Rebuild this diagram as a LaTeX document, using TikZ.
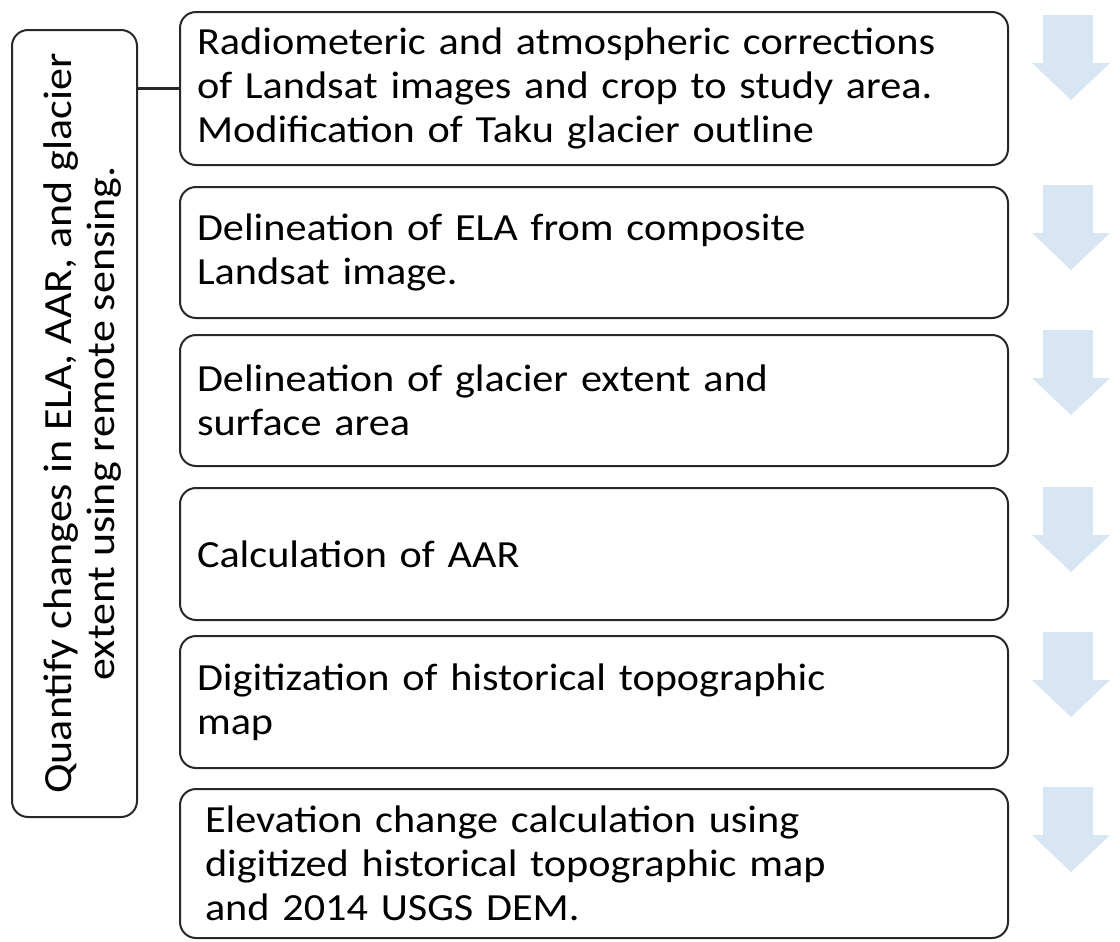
\documentclass[tikz,border=0pt]{standalone}
\usepackage{fontspec}
\setmainfont{Carlito}[FakeStretch=1.1]
\usetikzlibrary{positioning}
\definecolor{boxline}{RGB}{40,40,40}
\definecolor{arrowblue}{RGB}{216,229,243}
\tikzset{
	etape/.style={draw=boxline, line width=1pt, rounded corners=8pt, fill=white,
		minimum width=414pt, text width=397pt, inner xsep=8.5pt, align=left,
		font=\fontsize{19.2}{22}\selectfont},
	objectif/.style={draw=boxline, line width=1pt, rounded corners=8pt, fill=white,
		minimum width=62.5pt, minimum height=393.5pt},
	texteobj/.style={rotate=90, align=center, font=\fontsize{20}{21.5}\selectfont},
	fleche/.style={fill=arrowblue, draw=none}
}
\begin{document}
\begin{tikzpicture}[x=0.5pt, y=-0.5pt]
			\useasboundingbox (0,0) rectangle (1120,942);
			%Objectif, texte vertical
			\node[objectif] (Q) at (74.5,423.5) {};
			\node[texteobj] (Qtexte) at ([xshift=4pt]Q.center) {Quantify changes in ELA, AAR, and glacier\\extent using remote sensing.};
			%Etapes
			\node[etape, minimum height=76.5pt] (E1) at (594,88.5) {Radiometeric and atmospheric corrections\\of Landsat images and crop to study area.\\Modification of Taku glacier outline};
			\node[etape, minimum height=65.5pt] (E2) at (594,252.5) {Delineation of ELA from composite\\Landsat image.};
			\node[etape, minimum height=65.5pt] (E3) at (594,400.5) {Delineation of glacier extent and\\surface area};
			\node[etape, minimum height=66pt] (E4) at (594,554) {Calculation of AAR};
			\node[etape, minimum height=66pt] (E5) at (594,702) {Digitization of historical topographic\\map};
			\node[etape, minimum height=74.5pt, text width=389pt, inner xsep=11pt] (E6) at (594,863.5) {Elevation change calculation using\\digitized historical topographic map\\and 2014 USGS DEM.};
			%Liaison
			\draw[boxline, line width=1.2pt] (Q.east |- E1.west) -- (E1.west);
			%Fleches
			\foreach \t in {15,185,330,487,632,787}
				\fill[fleche] (1043,\t) -- (1093,\t) -- (1093,\t+48) -- (1110,\t+48) -- (1071,\t+85)
					-- (1032,\t+48) -- (1043,\t+48) -- cycle;
		\end{tikzpicture}
\end{document}
